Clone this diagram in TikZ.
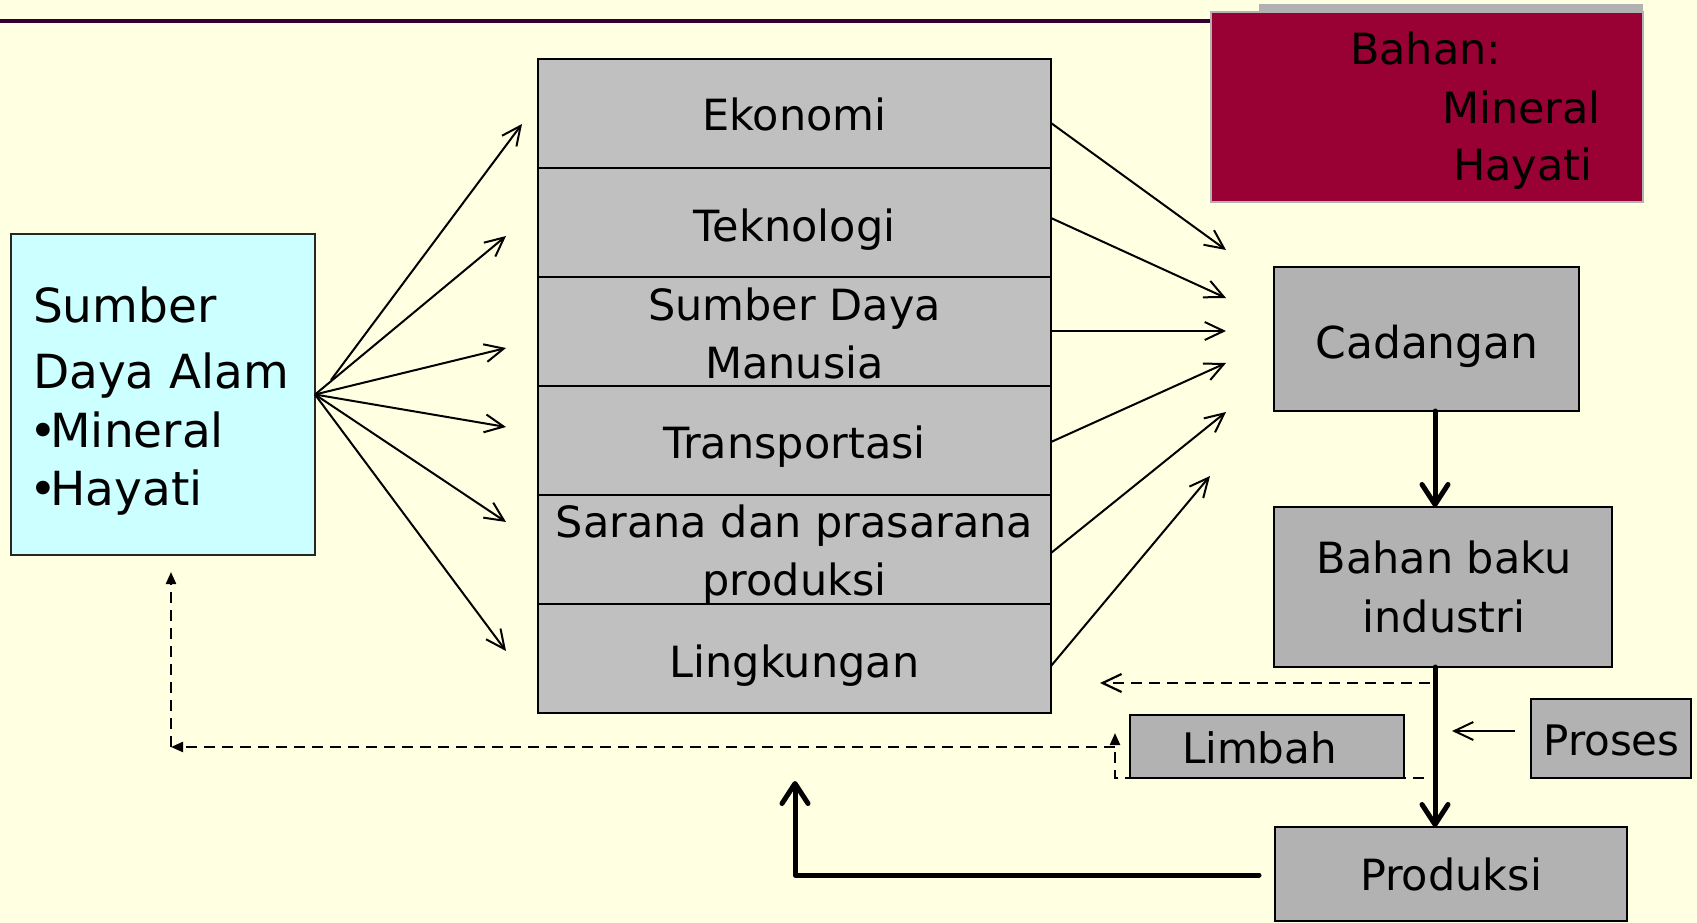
\documentclass[tikz,border=0pt]{standalone}
\usepackage{fontspec}
\setmainfont{DejaVu Sans}
\usetikzlibrary{arrows.meta}
\definecolor{bgc}{HTML}{FFFFE1}
\definecolor{rowgray}{HTML}{C0C0C0}
\definecolor{boxgray}{HTML}{B2B2B2}
\definecolor{cyanbox}{HTML}{CCFFFF}
\definecolor{wine}{HTML}{990033}
\definecolor{topline}{HTML}{330033}
\tikzset{
  every node/.style={inner sep=0pt, outer sep=0pt},
  rowbox/.style={draw=black, line width=2.5pt, fill=rowgray, minimum width=513pt, minimum height=109pt},
  gbox/.style={draw=black, line width=2pt, fill=boxgray},
  txt/.style={anchor=base, font=\fontsize{43}{52}\selectfont},
  fanarrow/.style={line width=2pt, -{Straight Barb[length=19pt,width=18pt]}},
  bigarrow/.style={line width=5pt, line cap=round, line join=round, -{Straight Barb[length=20pt,width=26pt,round]}},
  dashline/.style={line width=2.2pt, dash pattern=on 11pt off 7pt},
}
\begin{document}
\begin{tikzpicture}[x=1pt,y=-1pt]
\useasboundingbox (0,0) rectangle (1697,923);
\fill[bgc] (0,0) rectangle (1697,923);

% top rule
\coordinate (ruleL) at (0,21);
\coordinate (ruleR) at (1211,21);
\draw[topline, line width=4pt] (ruleL) -- (ruleR);

% Bahan box with shadow strip
\fill[boxgray] (1259,4) rectangle (1643,14);
\node[draw=boxgray, line width=2pt, fill=wine, minimum width=432pt, minimum height=190pt] (bahan) at (1427,107) {};
\node[txt, anchor=base west] (bahanT1) at (1350,65) {Bahan:};
\node[txt, anchor=base west] (bahanT2) at (1442,124) {Mineral};
\node[txt, anchor=base west] (bahanT3) at (1453,180) {Hayati};

% Sumber Daya Alam
\node[draw=black!85, line width=2pt, fill=cyanbox, minimum width=304pt, minimum height=321pt] (sda) at (163,394.5) {};
\begin{scope}[every node/.append style={anchor=base west, font=\fontsize{47}{56}\selectfont}]
\node (sdaT1) at (33,322) {Sumber};
\node (sdaT2) at (33,388) {Daya Alam};
\node (sdaT3) at (33,447) {\kern-0.08em•\kern-0.14em Mineral};
\node (sdaT4) at (33,505) {\kern-0.08em•\kern-0.14em Hayati};
\end{scope}

% stack of factors
\node[rowbox] (r1) at (794.5,113.5) {};
\node[rowbox] (r2) at (794.5,222.5) {};
\node[rowbox] (r3) at (794.5,331.5) {};
\node[rowbox] (r4) at (794.5,440.5) {};
\node[rowbox] (r5) at (794.5,549.5) {};
\node[rowbox] (r6) at (794.5,658.5) {};
\node[txt] (r1t) at (794.5,131) {Ekonomi};
\node[txt] (r2t) at (794.5,241) {Teknologi};
\node[txt] (r3t) at (794.5,320) {Sumber Daya};
\node[txt] (r3u) at (794.5,378) {Manusia};
\node[txt] (r4t) at (794.5,458) {Transportasi};
\node[txt] (r5t) at (794.5,537) {Sarana dan prasarana};
\node[txt] (r5u) at (794.5,595) {produksi};
\node[txt] (r6t) at (794.5,677) {Lingkungan};

% right column boxes
\node[gbox, minimum width=305pt, minimum height=144pt] (cad) at (1426.5,339) {};
\node[txt, font=\fontsize{44}{52}\selectfont] (cadT) at (1427,358) {Cadangan};
\node[gbox, minimum width=338pt, minimum height=160pt] (bbi) at (1443,587) {};
\node[txt] (bbiT1) at (1444,573) {Bahan baku};
\node[txt] (bbiT2) at (1444,632) {industri};
\node[gbox, minimum width=274pt, minimum height=63pt] (limbah) at (1267,746.5) {};
\node[txt, font=\fontsize{42}{50}\selectfont] (limbahT) at (1259.5,763) {Limbah};
\node[gbox, minimum width=160pt, minimum height=79pt] (proses) at (1611,738.5) {};
\node[txt, font=\fontsize{42}{50}\selectfont] (prosesT) at (1611.5,755) {Proses};
\node[gbox, minimum width=352pt, minimum height=94pt] (prod) at (1451,874) {};
\node[txt] (prodT) at (1451,890) {Produksi};

% fan arrows from Sumber Daya Alam
\coordinate (f1s) at (331,380);
\coordinate (f1) at (522,124);
\coordinate (f2) at (506,236);
\coordinate (f3) at (506,348);
\coordinate (f4) at (506,427);
\coordinate (f5) at (506,522);
\coordinate (f6) at (506,651);
\draw[fanarrow] (f1s) -- (f1);
\foreach \t in {f2,f3,f4,f5,f6} \draw[fanarrow] (sda.east) -- (\t);

% arrows from stack to Cadangan
\coordinate (g1) at (1226,250);
\coordinate (g2) at (1226,298);
\coordinate (g3) at (1226,331);
\coordinate (g4) at (1226,363);
\coordinate (g5) at (1226,412);
\coordinate (g6) at (1210,476);
\draw[fanarrow] (r1.east |- 0,123) -- (g1);
\draw[fanarrow] (r2.east |- 0,218) -- (g2);
\draw[fanarrow] (r3.east |- 0,331) -- (g3);
\draw[fanarrow] (r4.east |- 0,442) -- (g4);
\draw[fanarrow] (r5.east |- 0,553) -- (g5);
\draw[fanarrow] (r6.east |- 0,666) -- (g6);

% main vertical flow
\coordinate (spine) at (1435,0);
\draw[bigarrow] (spine |- cad.south) -- (spine |- bbi.north);
\draw[bigarrow] (spine |- bbi.south) -- (spine |- prod.north);

% proses arrow
\coordinate (pA) at (1515,731);
\coordinate (pTip) at (1452,731);
\draw[fanarrow] (pA) -- (pTip);

% dashed feedback
\coordinate (wA) at (1430,683);
\coordinate (wTip) at (1100,683);
\draw[dashline, -{Straight Barb[length=19pt,width=18pt]}] (wA) -- (wTip);
\coordinate (lA) at (1424,778);
\coordinate (lB) at (1115,778);
\coordinate (lTip) at (1115,733);
\draw[dashline, -{Triangle[length=12pt,width=10pt]}] (lA) -- (lB) -- (lTip);
\coordinate (kA) at (1115,747);
\coordinate (kB) at (171,747);
\coordinate (kTip) at (171,572);
\draw[dashline, -{Triangle[length=12pt,width=10pt]}] (kA) -- (kB);
\draw[dashline, -{Triangle[length=12pt,width=10pt]}] (kB) -- (kTip);

% produksi back to stack
\coordinate (qA) at (1259,875);
\coordinate (qB) at (795,875);
\coordinate (qTip) at (795,781);
\draw[bigarrow] (qA) -- (qB) -- (qTip);
\end{tikzpicture}
\end{document}
